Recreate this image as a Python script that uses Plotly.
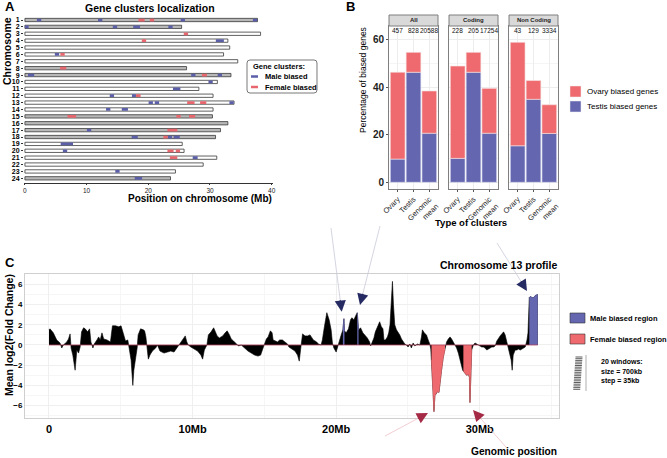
import plotly.graph_objects as go

W, H = 667, 458
def fx(x): return x / W
def fy(y): return 1 - y / H

FONT = "Liberation Sans"
BLUE = "#6467B0"
RED = "#EF6A6E"
A_BLUE = "#5B5FA8"
A_RED = "#E8676E"
GRAY = "#B8B8B8"

# ---------------- Panel A data: gene clusters on chromosomes
chromosomes = list(range(1, 25))
chrom_length_mb = [37.7, 25.4, 38.2, 32.9, 33.2, 32.2, 34.5, 26.2, 33.4, 31.2, 28.2, 30.5,
                   33.9, 30.5, 30.4, 32.9, 31.7, 30.9, 25.5, 25.8, 31.1, 28.9, 24.4, 23.6]
chrom_shaded = [1, 1, 0, 0, 0, 0, 0, 1, 1, 0, 0, 0, 0, 0, 1, 1, 1, 1, 0, 0, 0, 0, 0, 1]

cluster_chrom = [1, 1, 1, 1, 1, 1,
                 2, 2, 2, 2,
                 3,
                 4, 4,
                 6, 6,
                 8,
                 9, 9, 9, 9,
                 10,
                 11,
                 12, 12, 12,
                 13, 13, 13, 13, 13,
                 14, 14,
                 15, 15, 15,
                 17, 17,
                 18, 18, 18, 18,
                 19,
                 20, 20, 20,
                 21, 21,
                 23,
                 24]
cluster_start_mb = [1.95, 11.85, 18.4, 20.25, 25.25, 36.95,
                    0.0, 14.25, 17.55, 23.25,
                    25.75,
                    18.95, 30.95,
                    4.85, 5.75,
                    5.7,
                    0.5, 26.95, 28.7, 31.25,
                    29.75,
                    24.0,
                    13.75, 17.35, 18.0,
                    20.05, 21.05, 26.3, 28.4, 33.15,
                    13.15, 15.7,
                    6.9, 24.55, 26.6,
                    10.05, 23.1,
                    17.3, 22.45, 23.15, 24.1,
                    5.8,
                    6.15, 23.1, 24.45,
                    23.5, 27.2,
                    14.65,
                    17.8]
cluster_end_mb = [2.65, 12.55, 19.4, 20.95, 25.95, 37.65,
                  0.6, 14.95, 18.65, 23.95,
                  26.45,
                  19.65, 32.25,
                  5.55, 6.45,
                  6.7,
                  1.5, 27.65, 29.5, 31.95,
                  30.45,
                  25.2,
                  14.45, 18.0, 18.75,
                  20.75, 21.75, 27.5, 29.4, 33.85,
                  13.85, 16.7,
                  8.3, 25.25, 27.6,
                  10.75, 24.7,
                  18.3, 23.15, 23.85, 25.1,
                  7.8,
                  6.85, 24.1, 25.15,
                  24.7, 28.0,
                  15.35,
                  19.0]
cluster_bias = ["Male", "Male", "Female", "Female", "Male", "Male",
                "Male", "Male", "Male", "Male",
                "Female",
                "Female", "Male",
                "Male", "Female",
                "Female",
                "Male", "Male", "Female", "Male",
                "Male",
                "Male",
                "Male", "Male", "Female",
                "Male", "Male", "Female", "Female", "Male",
                "Male", "Male",
                "Female", "Female", "Female",
                "Male", "Female",
                "Male", "Female", "Male", "Male",
                "Male",
                "Male", "Female", "Female",
                "Female", "Male",
                "Male",
                "Male"]

# ---------------- Panel B data: percentage of biased genes
facets = ["All", "Coding", "Non Coding"]
cluster_types = ["Ovary", "Testis", "Genomic mean"]
cluster_type_labels = ["Ovary", "Testis", "Genomic<br>mean"]
testis_pct_all = [9.8, 46.4, 20.7]
ovary_pct_all = [36.6, 8.4, 17.8]
n_genes_all = ["457", "828", "20588"]
testis_pct_coding = [10.1, 46.4, 20.7]
ovary_pct_coding = [38.9, 8.4, 18.9]
n_genes_coding = ["228", "205", "17254"]
testis_pct_noncoding = [15.4, 35.0, 20.6]
ovary_pct_noncoding = [43.6, 7.9, 12.1]
n_genes_noncoding = ["43", "129", "3334"]

# ---------------- Panel C data: chromosome 13 profile
pos_mb = [0.00, 0.07, 0.30, 0.54, 0.77, 0.89, 1.00, 1.24, 1.36, 1.47, 1.54, 1.66, 1.82, 1.94,
          2.06, 2.17, 2.27, 2.41, 2.52, 2.69, 2.83, 2.92, 3.06, 3.15, 3.34, 3.46, 3.57, 3.69,
          3.81, 4.04, 4.28, 4.42, 4.63, 4.86, 5.02, 5.16, 5.33, 5.49, 5.61, 5.72, 5.79, 5.84,
          5.91, 6.03, 6.14, 6.21, 6.38, 6.57, 6.66, 6.75, 6.85, 6.92, 7.03, 7.20, 7.43, 7.55,
          7.73, 8.01, 8.25, 8.48, 8.71, 8.90, 9.07, 9.18, 9.37, 9.49, 9.60, 9.70, 9.88, 10.12,
          10.35, 10.58, 10.70, 10.82, 11.00, 11.10, 11.29, 11.47, 11.57, 11.71, 11.87, 12.10,
          12.27, 12.41, 12.57, 12.69, 12.85, 13.04, 13.20, 13.39, 13.62, 13.86, 14.09, 14.32,
          14.56, 14.74, 14.91, 15.02, 15.14, 15.26, 15.42, 15.54, 15.61, 15.77, 15.91, 16.07,
          16.26, 16.43, 16.61, 16.71, 16.89, 17.13, 17.31, 17.43, 17.52, 17.59, 17.66, 17.83,
          18.01, 18.18, 18.29, 18.41, 18.64, 18.76, 18.95, 19.04, 19.18, 19.35, 19.51, 19.65,
          19.74, 19.84, 20.00, 20.16, 20.35, 20.47, 20.54, 20.58, 20.70, 20.86, 21.00, 21.10,
          21.24, 21.33, 21.47, 21.56, 21.70, 21.86, 21.98, 22.17, 22.33, 22.40, 22.49, 22.63,
          22.73, 22.87, 23.03, 23.15, 23.26, 23.33, 23.43, 23.57, 23.66, 23.75, 23.85, 23.92,
          23.99, 24.08, 24.20, 24.31, 24.43, 24.55, 24.66, 24.78, 24.90, 25.01, 25.13, 25.24,
          25.36, 25.48, 25.66, 25.83, 25.94, 26.01, 26.13, 26.29, 26.41, 26.52, 26.59, 26.64,
          26.71, 26.76, 26.81, 26.88, 26.99, 27.06, 27.16, 27.23, 27.34, 27.46, 27.58, 27.62,
          27.69, 27.81, 27.93, 28.04, 28.16, 28.27, 28.39, 28.51, 28.62, 28.74, 28.81, 28.86,
          28.97, 29.09, 29.21, 29.28, 29.32, 29.39, 29.44, 29.56, 29.67, 29.79, 29.91, 30.02,
          30.14, 30.26, 30.37, 30.49, 30.61, 30.72, 30.84, 30.96, 31.07, 31.19, 31.31, 31.42,
          31.54, 31.66, 31.77, 31.89, 31.96, 32.05, 32.19, 32.26, 32.33, 32.47, 32.59, 32.70,
          32.82, 32.94, 33.05, 33.17, 33.29, 33.36, 33.45, 33.52, 33.64, 33.75, 33.87, 33.99,
          34.04]
log2fc = [1.5, 1.6, 1.2, 0.5, 0.2, -0.3, 0.0, 0.3, 0.6, 1.1, -0.3, -1.0, -2.5, -0.5,
          -0.8, -0.2, 1.3, 1.7, 1.6, 1.3, 1.6, 0.3, -0.3, 0.1, 0.5, 0.8, 0.5, 1.2,
          0.6, 0.5, 0.3, 1.9, 1.9, 1.8, 1.9, 1.2, 0.4, 0.5, -0.5, -1.5, -3.0, -4.0,
          -2.5, -1.5, -0.3, 1.0, 1.6, 1.5, 1.4, 0.8, -0.5, -1.4, -1.0, -0.6, -0.3, 0.0,
          -0.6, -0.8, -0.7, -0.6, -0.7, -0.3, 0.1, 0.3, 0.6, 0.9, 0.3, 0.0, -0.2, -0.4,
          -0.6, -1.0, -1.4, -0.5, 0.0, 1.0, 1.3, 1.7, 1.3, 0.9, 0.7, 0.9,
          1.2, 1.4, 1.0, 0.6, 0.4, 0.1, -0.1, 0.0, -0.3, -0.6, -0.8, -1.0,
          -1.1, -1.0, -0.3, 0.2, 0.6, 0.8, 1.4, 1.2, 0.5, 0.4, 0.3, 0.5,
          0.5, 0.3, 0.1, -0.2, -0.4, -0.6, -1.0, -1.6, -0.5, 0.5, 1.1, 0.9,
          0.9, 1.0, 0.8, 0.5, 0.3, 0.1, 0.0, 0.5, 1.8, 3.2, 2.5, 1.5,
          0.2, -0.3, -0.7, 0.2, 1.0, 1.5, 2.6, 1.4, 1.2, 1.6, 2.5, 2.7,
          2.5, 2.8, 3.2, 1.5, 1.7, 1.2, 1.0, 0.7, 0.3, -0.1, 0.2, 0.7,
          1.3, 1.8, 2.3, 1.8, 1.6, 0.5, 0.5, 0.8, 1.2, 2.0, 4.0, 6.3,
          4.0, 2.0, 1.5, 1.3, 1.0, 0.6, 0.3, 0.1, 0.0, -0.2, 0.1, -0.3,
          0.2, -0.1, 0.1, 0.0, 0.8, 1.5, 1.2, 1.0, 0.5, 0.1, -0.4, -1.5,
          -3.5, -5.0, -6.6, -5.0, -4.8, -4.6, -4.7, -3.5, -2.5, -1.2, -0.5, 0.0,
          0.3, 0.6, 0.8, 0.6, 0.3, -0.1, -0.3, -0.8, -1.5, -2.0, -2.5, -2.6,
          -2.8, -3.0, -2.9, -3.2, -5.7, -3.0, -0.5, 0.0, 0.2, 0.1, 0.0, -0.1,
          -0.2, -0.2, -0.3, -0.5, -0.4, -0.3, -0.2, -0.2, -0.1, 0.4, 0.7, 0.9,
          1.1, 1.3, 1.0, 0.2, -0.3, -0.6, -1.5, -2.5, -1.0, -0.5, -0.5, -0.4,
          -0.5, -0.4, -0.3, -0.2, 0.5, 1.2, 4.7, 4.8, 4.7, 4.7, 4.9, 5.0,
          5.0]
male_regions_mb = [(20.44, 20.60), (21.42, 21.60), (33.40, 34.10)]
female_regions_mb = [(26.62, 27.60), (28.84, 29.46)]

fig = go.Figure()

# ---------------- Panel A traces
fig.add_trace(go.Bar(
    x=chrom_length_mb, y=chromosomes, base=[0] * len(chromosomes), orientation="h",
    marker=dict(color=[GRAY if s else "white" for s in chrom_shaded],
                line=dict(color="#3A3A3A", width=0.8)),
    width=0.48, xaxis="x", yaxis="y", showlegend=False, hoverinfo="skip"))
for bias, col in [("Male", A_BLUE), ("Female", A_RED)]:
    idx = [i for i, b in enumerate(cluster_bias) if b == bias]
    fig.add_trace(go.Bar(
        x=[cluster_end_mb[i] - cluster_start_mb[i] for i in idx],
        base=[cluster_start_mb[i] for i in idx],
        y=[cluster_chrom[i] for i in idx], orientation="h",
        marker=dict(color=col, line=dict(width=0)), width=0.4,
        xaxis="x", yaxis="y", showlegend=False, hoverinfo="skip"))

# ---------------- Panel B traces
b_data = [(testis_pct_all, ovary_pct_all, n_genes_all),
          (testis_pct_coding, ovary_pct_coding, n_genes_coding),
          (testis_pct_noncoding, ovary_pct_noncoding, n_genes_noncoding)]
b_domains = [(389, 438), (449, 498), (509, 558)]
annotations = []
shapes = []
for k, (testis, ovary, ngenes) in enumerate(b_data):
    ax_id = str(k + 2)
    fig.add_trace(go.Bar(x=cluster_types, y=testis, base=[0] * 3, marker=dict(color=BLUE, line=dict(color="#E6E6F5", width=0.6)),
                         width=0.93, xaxis="x" + ax_id, yaxis="y" + ax_id, showlegend=False, hoverinfo="skip"))
    fig.add_trace(go.Bar(x=cluster_types, y=ovary, base=testis, marker=dict(color=RED, line=dict(color="#F6E0E0", width=0.6)),
                         width=0.93, xaxis="x" + ax_id, yaxis="y" + ax_id, showlegend=False, hoverinfo="skip"))
    for c, n in zip(cluster_types, ngenes):
        annotations.append(dict(x=c, y=64, xref="x" + ax_id, yref="y" + ax_id, text=n, showarrow=False,
                                font=dict(family=FONT, size=6.5, color="#111")))
    x0, x1 = b_domains[k]
    shapes.append(dict(type="rect", xref="paper", yref="paper", x0=fx(x0), x1=fx(x1), y0=fy(26), y1=fy(15),
                       fillcolor="#D9D9D9", line=dict(color="#7F7F7F", width=1)))
    annotations.append(dict(x=fx((x0 + x1) / 2), y=fy(20.5), xref="paper", yref="paper", text="<b>" + facets[k] + "</b>",
                            showarrow=False, xanchor="center", yanchor="middle",
                            font=dict(family=FONT, size=6, color="#222")))

# ---------------- Panel C traces
fig.add_trace(go.Scatter(x=pos_mb, y=log2fc, mode="lines", fill="tozeroy", fillcolor="black",
                         line=dict(color="black", width=0.6), xaxis="x5", yaxis="y5",
                         showlegend=False, hoverinfo="skip"))
for regions, col in [(female_regions_mb, RED), (male_regions_mb, BLUE)]:
    for a, b in regions:
        xs = [p for p in pos_mb if a <= p <= b]
        ys = [v for p, v in zip(pos_mb, log2fc) if a <= p <= b]
        fig.add_trace(go.Scatter(x=xs, y=ys, mode="lines", fill="tozeroy", fillcolor=col,
                                 line=dict(color=col, width=0.6),
                                 xaxis="x5", yaxis="y5", showlegend=False, hoverinfo="skip"))
shapes.append(dict(type="line", xref="x5", yref="y5", x0=min(pos_mb), x1=max(pos_mb), y0=0, y1=0,
                   line=dict(color="#B0405A", width=0.8)))

# ---------------- Annotations / decorations
def txt(x, y, s, size, anchor="center", bold=True, color="black", angle=0, yanchor="middle"):
    annotations.append(dict(x=fx(x), y=fy(y), xref="paper", yref="paper", text=("<b>%s</b>" % s) if bold else s,
                            showarrow=False, xanchor=anchor, yanchor=yanchor, textangle=angle,
                            font=dict(family=FONT, size=size, color=color)))

txt(3, 7, "A", 13, "left")
txt(344, 7, "B", 13, "left")
txt(3, 262, "C", 13, "left")
txt(150, 8, "Gene clusters localization", 10.5)
txt(7, 51, "Chromosome", 10.5, angle=-90)
txt(200, 198, "Position on chromosome (Mb)", 10)

# legend A
lx0, lx1, ly0, ly1, r = 247, 317, 60, 93, 3
shapes.append(dict(type="path", xref="paper", yref="paper",
                   path=("M %f,%f L %f,%f Q %f,%f %f,%f L %f,%f Q %f,%f %f,%f L %f,%f Q %f,%f %f,%f L %f,%f Q %f,%f %f,%f Z" % (
                       fx(lx0 + r), fy(ly0), fx(lx1 - r), fy(ly0), fx(lx1), fy(ly0), fx(lx1), fy(ly0 + r),
                       fx(lx1), fy(ly1 - r), fx(lx1), fy(ly1), fx(lx1 - r), fy(ly1),
                       fx(lx0 + r), fy(ly1), fx(lx0), fy(ly1), fx(lx0), fy(ly1 - r),
                       fx(lx0), fy(ly0 + r), fx(lx0), fy(ly0), fx(lx0 + r), fy(ly0))),
                   line=dict(color="#555", width=0.8), fillcolor="white"))
txt(251, 66.5, "Gene clusters:", 7.5, "left")
shapes.append(dict(type="line", xref="paper", yref="paper", x0=fx(251), x1=fx(258), y0=fy(76.5), y1=fy(76.5),
                   line=dict(color=A_BLUE, width=2.5)))
shapes.append(dict(type="line", xref="paper", yref="paper", x0=fx(251), x1=fx(258), y0=fy(87), y1=fy(87),
                   line=dict(color=A_RED, width=2.5)))
txt(263, 76.5, "Male biased", 7.5, "left")
txt(263, 87, "Female biased", 7.5, "left")

# Panel B texts
txt(363, 80, "Percentage of biased genes", 8.5, bold=False, angle=-90)
txt(471, 222, "Type of clusters", 9.5)
shapes.append(dict(type="rect", xref="paper", yref="paper", x0=fx(570), x1=fx(581), y0=fy(86), y1=fy(97),
                   fillcolor=RED, line=dict(color="#EEE", width=0.5)))
shapes.append(dict(type="rect", xref="paper", yref="paper", x0=fx(570), x1=fx(581), y0=fy(101), y1=fy(112),
                   fillcolor=BLUE, line=dict(color="#EEE", width=0.5)))
txt(585, 91.5, "Ovary biased genes", 8, "left", bold=False)
txt(585, 106.5, "Testis biased genes", 8, "left", bold=False)

# Panel C texts
txt(559, 265, "Chromosome 13 profile", 10.5, "right")
txt(559, 451, "Genomic position", 10.2, "right")
txt(9, 335, "Mean log2(Fold Change)", 10.5, angle=-90)
shapes.append(dict(type="rect", xref="paper", yref="paper", x0=fx(570), x1=fx(585), y0=fy(313), y1=fy(323),
                   fillcolor=BLUE, line=dict(color="#333", width=0.6)))
shapes.append(dict(type="rect", xref="paper", yref="paper", x0=fx(570), x1=fx(585), y0=fy(334), y1=fy(344),
                   fillcolor=RED, line=dict(color="#333", width=0.6)))
txt(588, 318, "Male biased region", 7.5, "left")
txt(588, 339, "Female biased region", 7.5, "left")
txt(599, 361, "20 windows:", 7, "left")
txt(599, 371, "size = 700kb", 7, "left")
txt(599, 381, "step = 35kb", 7, "left")
for i in range(20):
    yy = 357 + i * 1.7
    sx = 575.5 - i * 0.12
    shapes.append(dict(type="line", xref="paper", yref="paper", x0=fx(sx), x1=fx(sx + 7), y0=fy(yy), y1=fy(yy),
                       line=dict(color="#333", width=0.8)))
shapes.append(dict(type="line", xref="paper", yref="paper", x0=fx(586), x1=fx(586), y0=fy(355), y1=fy(391),
                   line=dict(color="#999", width=0.8)))

# arrows: faint guide lines + dark heads
NAVY = "#262A62"
DRED = "#A52A45"
arrows = [((331, 228), (341.7, 311.7), NAVY, "#C9CAD8"),
          ((380, 226), (360, 305), NAVY, "#C9CAD8"),
          ((497, 243), (527, 291), NAVY, "#C9CAD8"),
          ((385, 436), (428, 413), DRED, "#EDC0C8"),
          ((506, 447), (473, 410), DRED, "#EDC0C8")]
for (tx, ty), (hx, hy), col, lcol in arrows:
    dx, dy = hx - tx, hy - ty
    L = (dx * dx + dy * dy) ** 0.5
    ux, uy = dx / L, dy / L
    shapes.append(dict(type="line", xref="paper", yref="paper", x0=fx(tx), y0=fy(ty),
                       x1=fx(hx - ux * 8), y1=fy(hy - uy * 8), line=dict(color=lcol, width=0.8)))
    annotations.append(dict(x=fx(hx), y=fy(hy), xref="paper", yref="paper", ax=-ux * 13, ay=-uy * 13,
                            axref="pixel", ayref="pixel", text="", showarrow=True, arrowhead=2,
                            arrowsize=1.4, arrowwidth=1.6, arrowcolor=col))

tick_bold = dict(family=FONT, size=7, color="black", weight="bold")

layout = dict(
    width=W, height=H, margin=dict(l=0, r=0, t=0, b=0, autoexpand=False),
    paper_bgcolor="white", plot_bgcolor="white", barmode="overlay",
    font=dict(family=FONT),
    xaxis=dict(domain=[fx(24), fx(272.6)], range=[-0.15, 40.15], anchor="y", automargin=False,
               tickvals=[0, 10, 20, 30, 40], showline=True, linecolor="#333", linewidth=0.8,
               ticks="outside", ticklen=1.5, tickcolor="#333", tickfont=dict(family=FONT, size=6.5, color="#222"),
               showgrid=False, zeroline=False),
    yaxis=dict(domain=[fy(183), fy(14)], range=[24.68, 0.128], anchor="x", automargin=False,
               tickvals=chromosomes, ticktext=[str(c) for c in chromosomes],
               ticks="outside", ticklen=2, tickcolor="#333", tickfont=tick_bold,
               showgrid=False, zeroline=False, showline=False),
    xaxis5=dict(domain=[fx(25), fx(559)], range=[-1.67, 35.52], anchor="y5", automargin=False,
                tickvals=[0, 10, 20, 30], ticktext=["0", "10Mb", "20Mb", "30Mb"],
                tickfont=dict(family=FONT, size=11, color="black", weight="bold"),
                showgrid=True, gridcolor="#EFEFEF", gridwidth=0.8,
                minor=dict(dtick=5, tick0=0, showgrid=True, gridcolor="#F6F6F6"),
                showline=True, mirror=True, linecolor="#CFCFCF", linewidth=1, zeroline=False, ticks=""),
    yaxis5=dict(domain=[fy(418.3), fy(274)], range=[-7.26, 7.03], anchor="x5", automargin=False,
                tickvals=[-6, -4, -2, 0, 2, 4, 6], tickfont=dict(family=FONT, size=8, color="black", weight="bold"),
                showgrid=True, gridcolor="#EFEFEF", gridwidth=0.8,
                minor=dict(dtick=1, tick0=0, showgrid=True, gridcolor="#F6F6F6"),
                showline=True, mirror=True, linecolor="#CFCFCF", linewidth=1, zeroline=False, ticks=""),
    annotations=annotations, shapes=shapes,
)
for k in range(3):
    ax_id = str(k + 2)
    x0, x1 = b_domains[k]
    layout["xaxis" + ax_id] = dict(domain=[fx(x0), fx(x1)], anchor="y" + ax_id, type="category", automargin=False,
                                   categoryorder="array", categoryarray=cluster_types, range=[-0.55, 2.55],
                                   tickvals=cluster_types, ticktext=cluster_type_labels, tickangle=-45,
                                   tickfont=dict(family=FONT, size=7.5, color="#222"),
                                   ticks="outside", ticklen=2, tickcolor="#555",
                                   showgrid=True, gridcolor="#EDEDED", showline=True, mirror=True,
                                   linecolor="#7F7F7F", linewidth=1, zeroline=False)
    layout["yaxis" + ax_id] = dict(domain=[fy(189), fy(26)], anchor="x" + ax_id, range=[-2.82, 65.9], automargin=False,
                                   tickvals=[0, 20, 40, 60], showticklabels=(k == 0),
                                   tickfont=dict(family=FONT, size=10, color="#222", weight="bold"),
                                   ticks="outside" if k == 0 else "", ticklen=2, tickcolor="#555",
                                   showgrid=True, gridcolor="#EDEDED",
                                   minor=dict(dtick=10, tick0=0, showgrid=True, gridcolor="#F5F5F5"),
                                   showline=True, mirror=True, linecolor="#7F7F7F", linewidth=1, zeroline=False)

fig.update_layout(**layout)
fig.write_html("out.html", config={"displayModeBar": False},
               post_script="document.body.style.margin='0px';document.body.style.padding='0px';")
